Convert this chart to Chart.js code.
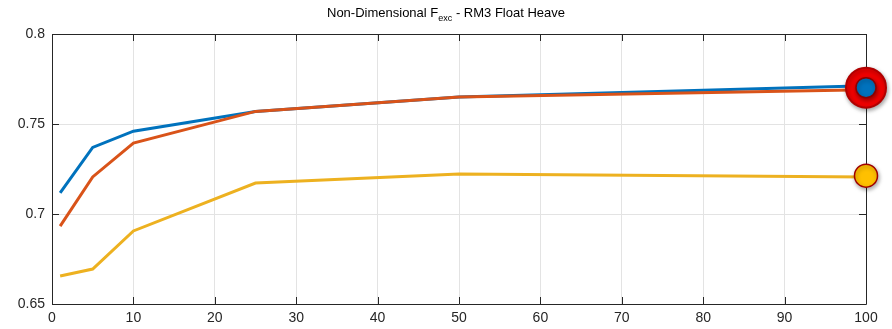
<!DOCTYPE html>
<html>
<head>
<meta charset="utf-8">
<script src="https://cdn.jsdelivr.net/npm/chart.js@4"></script>
<style>
    html, body { margin: 0; padding: 0; background: #fff; }
    #wrap { position: relative; width: 892px; height: 329px; }
    #title {
        position: absolute; left: 0; width: 892px; top: 5px; text-align: center;
        font-family: 'Liberation Sans', Arial, sans-serif; font-size: 13px; color: #000;
    }
    #title sub { font-size: 9px; }
</style>
</head>
<body>
<div id="wrap">
    <div id="title">Non-Dimensional F<sub>exc</sub> - RM3 Float Heave</div>
    <canvas id="chart" width="892" height="329"></canvas>
</div>
<script>
const xValues = [1, 5, 10, 25, 50, 100];
const blueValues = [0.7117, 0.737, 0.746, 0.757, 0.765, 0.7713];
const orangeValues = [0.6933, 0.7206, 0.7394, 0.757, 0.765, 0.769];
const yellowValues = [0.6656, 0.6694, 0.6906, 0.7172, 0.7222, 0.7205];
const bigMarker = [{ x: 100, y: 0.7702 }];
const yellowMarker = [{ x: 100, y: 0.7213 }];
const xTicks = [0, 10, 20, 30, 40, 50, 60, 70, 80, 90, 100];
const yTicks = [0.65, 0.7, 0.75, 0.8];

const colors = {
    blue: '#0072BD',
    orange: '#D95319',
    yellow: '#EDB120',
    grid: '#e3e3e3',
    axis: '#262626'
};

const toPoints = vals => vals.map((v, i) => ({ x: xValues[i], y: v }));

const lineSet = (vals, color) => ({
    type: 'line',
    data: toPoints(vals),
    borderColor: color,
    borderWidth: 3,
    pointRadius: 0,
    fill: false,
    tension: 0
});

// box + inward ticks like MATLAB axes
const boxPlugin = {
    id: 'box',
    beforeDatasetsDraw(chart) {
        const { ctx, chartArea: a, scales } = chart;
        ctx.save();
        ctx.strokeStyle = colors.axis;
        ctx.lineWidth = 1;
        ctx.beginPath();
        ctx.rect(a.left + 0.5, a.top + 0.5, a.right - a.left, a.bottom - a.top);
        ctx.stroke();
        ctx.beginPath();
        xTicks.forEach(t => {
            const px = Math.round(scales.x.getPixelForValue(t)) + 0.5;
            ctx.moveTo(px, a.bottom); ctx.lineTo(px, a.bottom - 7);
            ctx.moveTo(px, a.top); ctx.lineTo(px, a.top + 7);
        });
        yTicks.forEach(t => {
            const py = Math.round(scales.y.getPixelForValue(t)) + 0.5;
            ctx.moveTo(a.left, py); ctx.lineTo(a.left + 7, py);
            ctx.moveTo(a.right, py); ctx.lineTo(a.right - 7, py);
        });
        ctx.stroke();
        ctx.restore();
    }
};

// soft shadow under the end markers
const shadowPlugin = {
    id: 'markerShadow',
    beforeDatasetDraw(chart, args) {
        if (chart.data.datasets[args.index].shadow) {
            const ctx = chart.ctx;
            ctx.save();
            ctx.shadowColor = 'rgba(0,0,0,0.35)';
            ctx.shadowBlur = 4;
            ctx.shadowOffsetX = 1;
            ctx.shadowOffsetY = 2;
        }
    },
    afterDatasetDraw(chart, args) {
        if (chart.data.datasets[args.index].shadow) chart.ctx.restore();
    }
};

Chart.defaults.font.family = "'Liberation Sans', Arial, sans-serif";
Chart.defaults.color = colors.axis;

new Chart(document.getElementById('chart').getContext('2d'), {
    type: 'scatter',
    data: {
        datasets: [
            // markers are listed first so they draw on top
            { data: yellowMarker, pointRadius: 11.5, backgroundColor: '#FFC000', borderColor: '#A00000', borderWidth: 1.5, shadow: true, clip: false, order: 1 },
            { data: bigMarker, pointRadius: 10, backgroundColor: colors.blue, borderColor: '#8B0000', borderWidth: 1.5, shadow: true, clip: false, order: 1 },
            { data: bigMarker, pointRadius: 20, backgroundColor: '#F00000', borderColor: '#B00000', borderWidth: 2, shadow: true, clip: false, order: 2 },
            Object.assign(lineSet(yellowValues, colors.yellow), { order: 5 }),
            Object.assign(lineSet(orangeValues, colors.orange), { order: 3 }),
            Object.assign(lineSet(blueValues, colors.blue), { order: 4 })
        ]
    },
    options: {
        responsive: false,
        animation: false,
        layout: { padding: { top: 34, right: 26, left: 0, bottom: 0 } },
        plugins: { legend: { display: false }, tooltip: { enabled: false }, title: { display: false } },
        scales: {
            x: {
                type: 'linear',
                min: 0, max: 100,
                afterBuildTicks: s => { s.ticks = xTicks.map(v => ({ value: v })); },
                afterFit: s => { s.height = 25; },
                grid: { color: colors.grid, drawTicks: false },
                border: { display: false },
                ticks: { font: { size: 14 }, padding: 6, maxRotation: 0 }
            },
            y: {
                min: 0.65, max: 0.8,
                afterBuildTicks: s => { s.ticks = yTicks.map(v => ({ value: v })); },
                afterFit: s => { s.width = 52; },
                grid: { color: colors.grid, drawTicks: false },
                border: { display: false },
                ticks: { font: { size: 14 }, padding: 7, callback: v => String(Number(v.toFixed(2))) }
            }
        }
    },
    plugins: [shadowPlugin, boxPlugin]
});
</script>
</body>
</html>
